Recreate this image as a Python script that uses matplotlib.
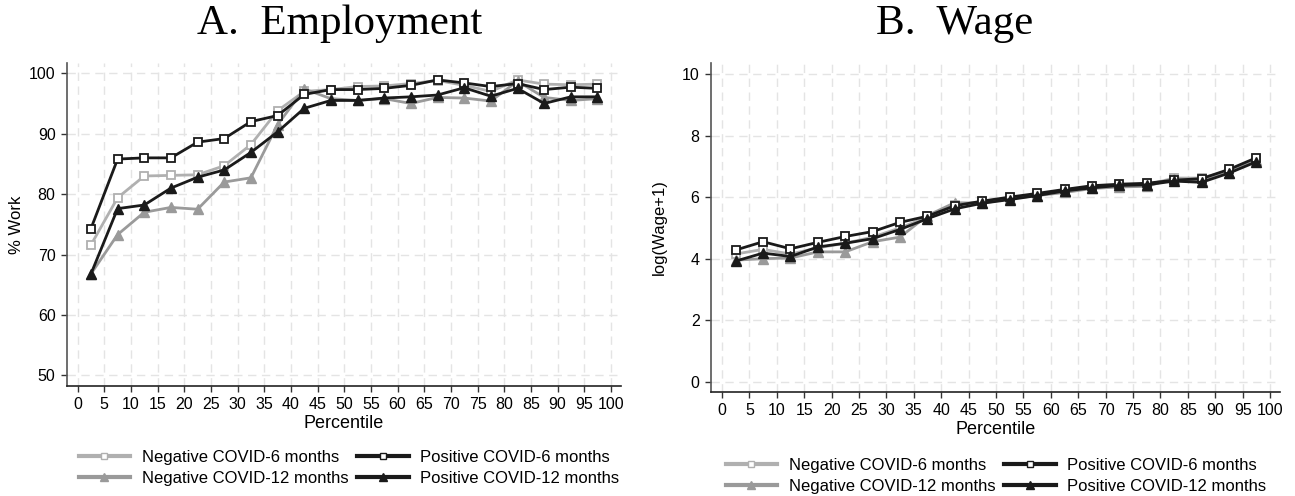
import matplotlib
matplotlib.use("Agg")
import matplotlib.pyplot as plt
from matplotlib.lines import Line2D

pct = [2.5, 7.5, 12.5, 17.5, 22.5, 27.5, 32.5, 37.5, 42.5, 47.5,
       52.5, 57.5, 62.5, 67.5, 72.5, 77.5, 82.5, 87.5, 92.5, 97.5]

# Panel A: employment (% work)
emp_neg6 = [71.6, 79.4, 83.0, 83.1, 83.2, 84.7, 88.2, 93.8, 97.0, 97.3,
            97.8, 97.9, 98.3, 98.8, 98.0, 97.0, 98.9, 98.2, 98.1, 98.2]
emp_neg12 = [66.8, 73.3, 77.0, 77.8, 77.5, 82.0, 82.7, 91.5, 97.4, 95.8,
             95.5, 95.8, 95.0, 96.0, 95.9, 95.4, 98.7, 96.0, 95.5, 95.8]
emp_pos6 = [74.3, 85.8, 86.0, 86.0, 88.6, 89.2, 92.0, 93.0, 96.5, 97.3,
            97.3, 97.5, 98.0, 98.9, 98.4, 97.8, 98.3, 97.3, 97.7, 97.5]
emp_pos12 = [66.8, 77.6, 78.2, 81.0, 82.8, 84.0, 86.9, 90.3, 94.2, 95.5,
             95.5, 95.9, 96.1, 96.4, 97.6, 96.2, 97.5, 95.0, 96.1, 96.1]

# Panel B: log(wage+1)
wage_neg6 = [4.15, 4.30, 4.15, 4.35, 4.50, 4.70, 5.00, 5.35, 5.75, 5.85,
             5.98, 6.08, 6.18, 6.30, 6.35, 6.40, 6.62, 6.62, 6.85, 7.25]
wage_neg12 = [3.95, 4.00, 4.02, 4.22, 4.22, 4.55, 4.70, 5.40, 5.82, 5.80,
              5.95, 6.05, 6.15, 6.28, 6.33, 6.35, 6.60, 6.52, 6.80, 7.20]
wage_pos6 = [4.28, 4.55, 4.32, 4.53, 4.72, 4.88, 5.18, 5.38, 5.72, 5.87,
             6.00, 6.12, 6.25, 6.37, 6.42, 6.45, 6.55, 6.60, 6.90, 7.28]
wage_pos12 = [3.92, 4.18, 4.07, 4.38, 4.50, 4.65, 4.95, 5.30, 5.62, 5.80,
              5.92, 6.05, 6.20, 6.30, 6.38, 6.40, 6.52, 6.48, 6.78, 7.15]

labels = ["Negative COVID-6 months", "Negative COVID-12 months",
          "Positive COVID-6 months", "Positive COVID-12 months"]
xticks = list(range(0, 101, 5))

LIGHT = "#b0b0b0"
MID = "#9a9a9a"
DARK = "#1a1a1a"

plt.rcParams['font.family'] = ['Liberation Sans', 'DejaVu Sans']

fig = plt.figure(figsize=(12.95, 4.96), dpi=100)
axA = fig.add_axes([0.0515, 0.2224, 0.4280, 0.6500])
axB = fig.add_axes([0.5488, 0.2103, 0.4400, 0.6621])


def style(ax, yticks, ylim, ylabel):
    ax.set_xlim(-2.05, 101.9)
    ax.set_ylim(*ylim)
    ax.set_xticks(xticks)
    ax.set_yticks(yticks)
    ax.tick_params(axis='both', labelsize=11.5, length=4, width=1,
                   color="#333333", direction='out', pad=4)
    ax.grid(True, color="#e4e4e4", linestyle=(0, (6, 4)), linewidth=1)
    ax.set_axisbelow(True)
    for s in ['top', 'right']:
        ax.spines[s].set_visible(False)
    ax.spines['left'].set_color("#555555")
    ax.spines['bottom'].set_color("#222222")
    ax.spines['left'].set_linewidth(1.2)
    ax.spines['bottom'].set_linewidth(1.2)
    ax.set_xlabel("Percentile", fontsize=13, labelpad=2)
    ax.set_ylabel(ylabel, fontsize=12)
    ax.yaxis.set_label_coords(-0.077, 0.5)


def draw(ax, n6, n12, p6, p12):
    ax.plot(pct, n6, color=LIGHT, lw=2, marker='s', ms=6, mfc='white',
            mec=LIGHT, mew=1.3, zorder=3)
    ax.plot(pct, n12, color=MID, lw=2, marker='^', ms=7, mfc=MID,
            mec=MID, zorder=3)
    ax.plot(pct, p6, color=DARK, lw=2, marker='s', ms=6, mfc='white',
            mec=DARK, mew=1.3, zorder=4)
    ax.plot(pct, p12, color=DARK, lw=2, marker='^', ms=7, mfc=DARK,
            mec=DARK, zorder=4)


draw(axA, emp_neg6, emp_neg12, emp_pos6, emp_pos12)
draw(axB, wage_neg6, wage_neg12, wage_pos6, wage_pos12)
style(axA, range(50, 101, 10), (48.3, 101.65), "% Work")
style(axB, range(0, 11, 2), (-0.325, 10.35), "log(Wage+1)")

fig.text(340 / 1295, 1 - 24 / 496, "A.  Employment", family=['Liberation Serif'],
         fontsize=31, ha='center', va='center')
fig.text(955 / 1295, 1 - 24 / 496, "B.  Wage", family=['Liberation Serif'],
         fontsize=31, ha='center', va='center')

handles = [
    Line2D([], [], color=LIGHT, lw=3, marker='s', ms=5, mfc='white', mec=LIGHT),
    Line2D([], [], color=MID, lw=3, marker='^', ms=6, mfc=MID, mec=MID),
    Line2D([], [], color=DARK, lw=3, marker='s', ms=5, mfc='white', mec=DARK),
    Line2D([], [], color=DARK, lw=3, marker='^', ms=6, mfc=DARK, mec=DARK),
]
for cx, y in [(349, 0.057), (996, 0.040)]:
    fig.legend(handles, labels, ncol=2, loc='center',
               bbox_to_anchor=(cx / 1295, y), frameon=False,
               fontsize=12, handlelength=3.1, columnspacing=0.5,
               handletextpad=0.7, labelspacing=0.35, borderaxespad=0)

fig.savefig("out.png", dpi=100)
